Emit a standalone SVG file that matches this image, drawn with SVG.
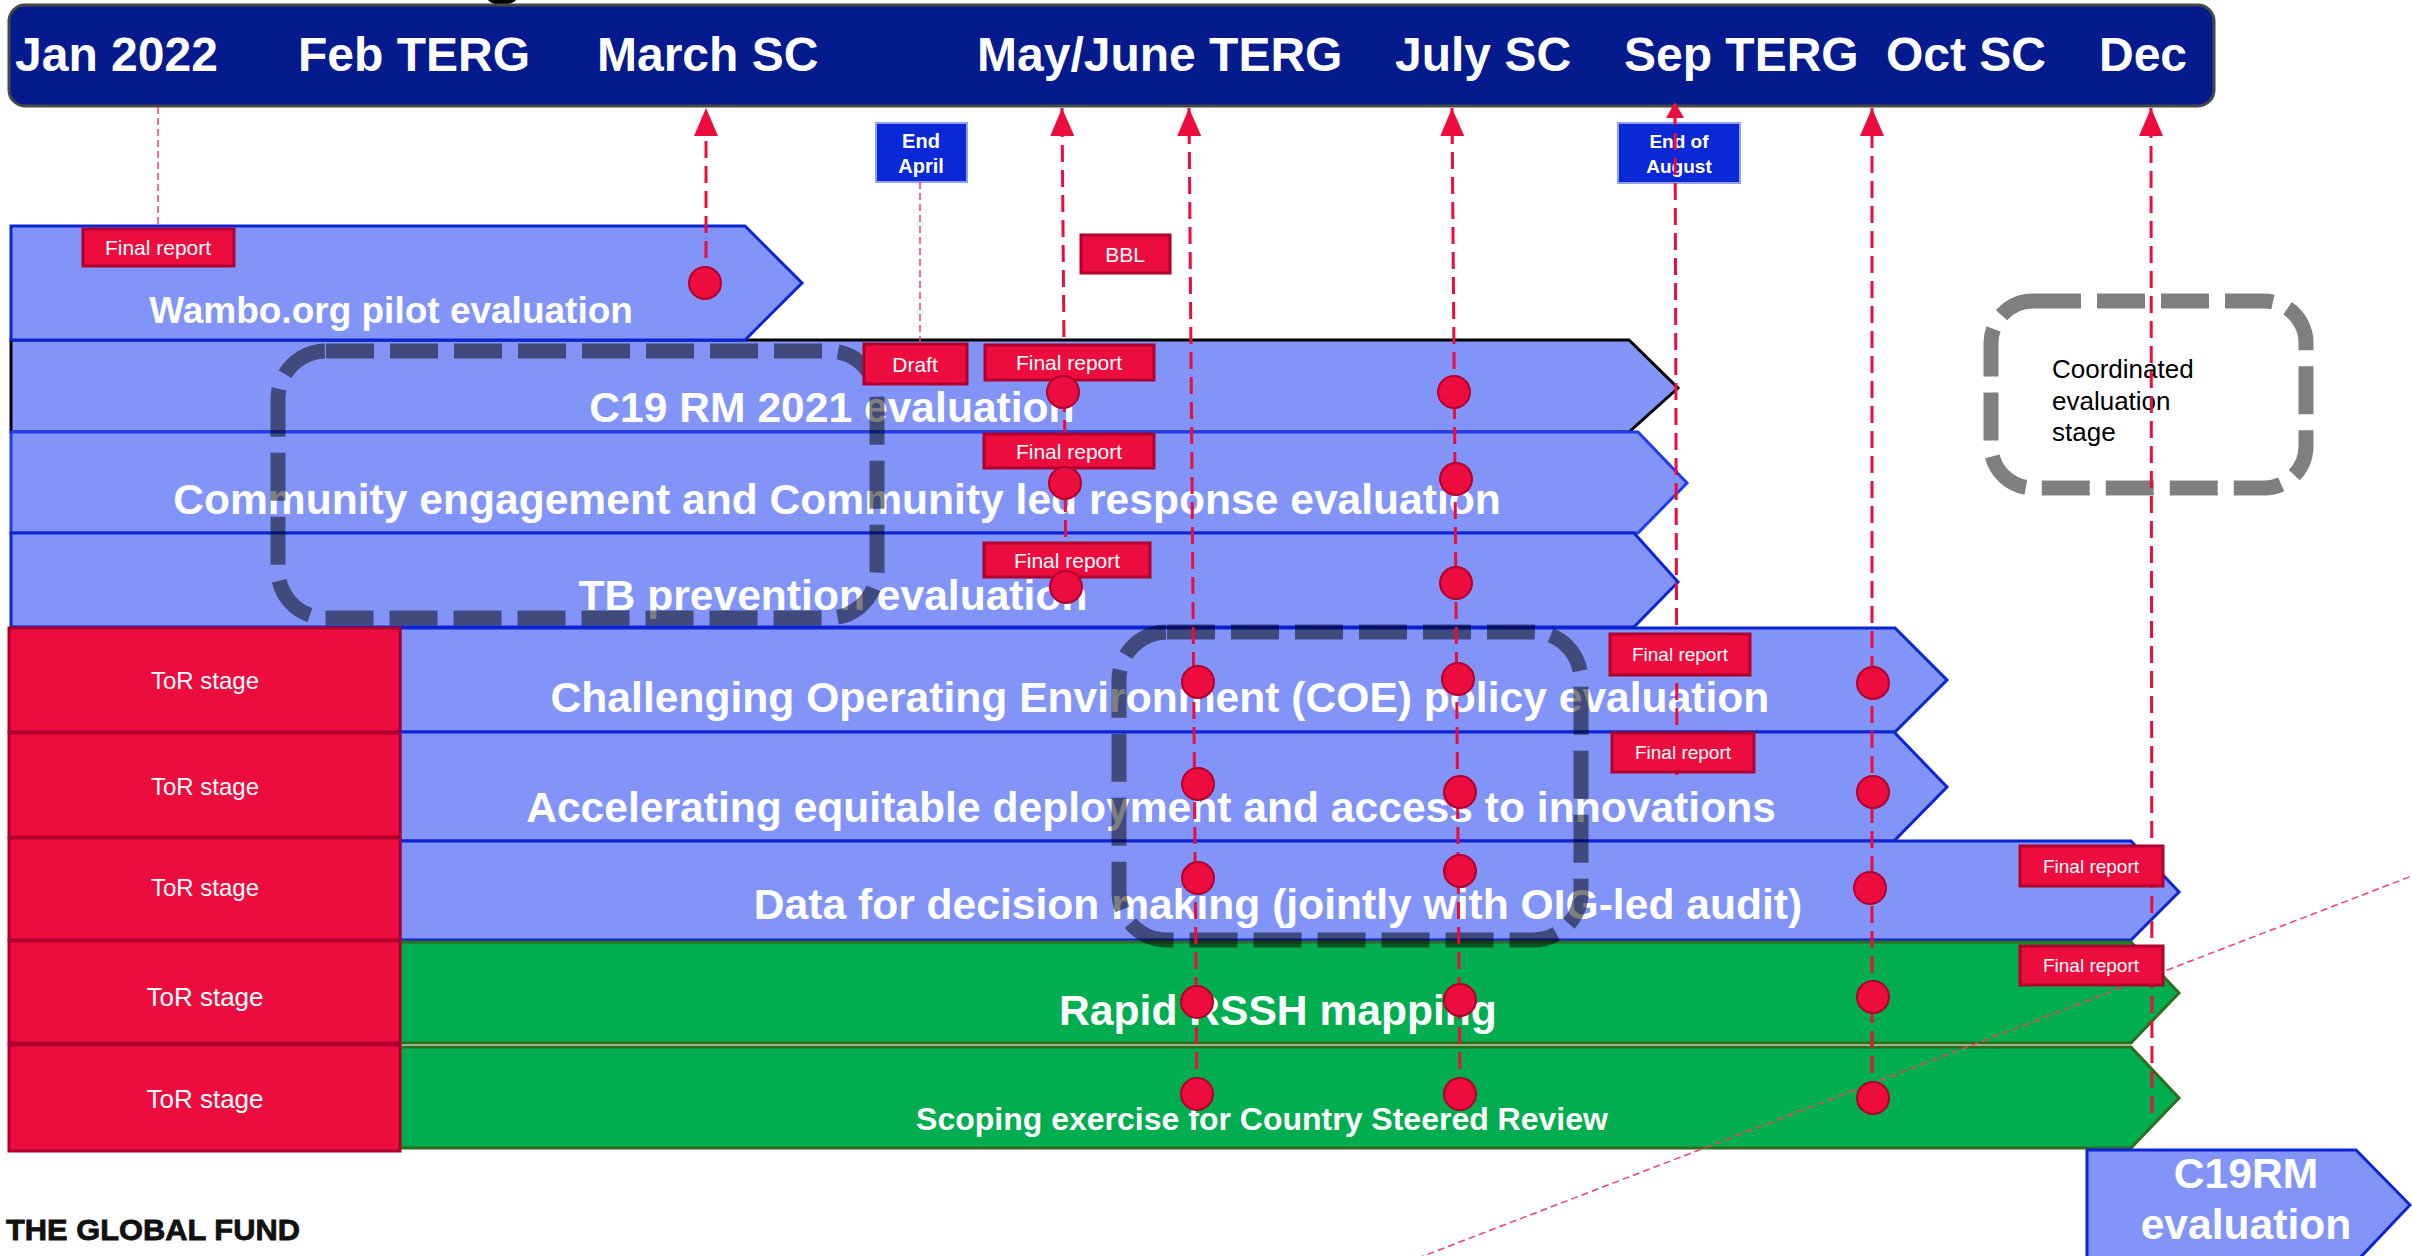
<svg xmlns="http://www.w3.org/2000/svg" width="2412" height="1256" viewBox="0 0 2412 1256">
<style>
.hdr{font-family:"Liberation Sans",Arial,sans-serif;font-weight:bold;font-size:48px;fill:#fff}
.row{stroke:#0B25D6;stroke-width:3;fill:#8294F8;stroke-linejoin:miter}
.grn{stroke:#2E6E1E;stroke-width:3;fill:#00AE4F}
.big{font-family:"Liberation Sans",Arial,sans-serif;font-weight:bold;font-size:42.6px;fill:#fff;text-anchor:middle}
.tor{fill:#EC0C3E;stroke:#B0002E;stroke-width:3}
.tort{font-family:"Liberation Sans",Arial,sans-serif;font-size:24px;fill:#fff;text-anchor:middle}
.lbl{fill:#EC0C3E;stroke:#B0002E;stroke-width:3}
.lblt{font-family:"Liberation Sans",Arial,sans-serif;font-size:21px;fill:#fff;text-anchor:middle}
.blu{fill:#0A28D6;stroke:#8FA0F0;stroke-width:2}
.blut{font-family:"Liberation Sans",Arial,sans-serif;font-weight:bold;font-size:20px;fill:#fff;text-anchor:middle}
.dash{fill:none;stroke:#000;stroke-opacity:0.5;stroke-width:15;stroke-dasharray:48 16}
.rl{stroke:#EC0C3E;stroke-width:3;stroke-dasharray:17 8;fill:none}
.tl{stroke:#F0406A;stroke-width:1.5;stroke-dasharray:7 4;fill:none}
.dot{fill:#EC0C3E;stroke:#B0002E;stroke-width:2}
</style>
<defs>
<marker id="ah" viewBox="0 0 28 24" refX="28" refY="12" markerWidth="28" markerHeight="24" markerUnits="userSpaceOnUse" orient="auto">
<path d="M0,0 L28,12 L0,24 z" fill="#EC0C3E"/>
</marker>
<marker id="ahs" viewBox="0 0 16 18" refX="16" refY="9" markerWidth="16" markerHeight="18" markerUnits="userSpaceOnUse" orient="auto">
<path d="M0,0 L16,9 L0,18 z" fill="#EC0C3E"/>
</marker>
</defs>
<rect width="2412" height="1256" fill="#fff"/>
<ellipse cx="502" cy="-8" rx="18" ry="13" fill="#000"/>

<g id="header">
<rect x="9" y="5" width="2205" height="101" rx="16" fill="#041A8D" stroke="#474747" stroke-width="3"/>
<text class="hdr" x="15" y="71">Jan 2022</text>
<text class="hdr" x="298" y="71">Feb TERG</text>
<text class="hdr" x="597" y="71">March SC</text>
<text class="hdr" x="977" y="71">May/June TERG</text>
<text class="hdr" x="1395" y="71">July SC</text>
<text class="hdr" x="1624" y="71">Sep TERG</text>
<text class="hdr" x="1886" y="71">Oct SC</text>
<text class="hdr" x="2099" y="71">Dec</text>
</g>

<g id="row-c19">
<polygon points="11,340 1629,340 1678,388 1629,432 11,432" fill="#8294F8" stroke="#000" stroke-width="3"/>
<text class="big" x="832" y="422">C19 RM 2021 evaluation</text>
</g>
<g id="row-wambo">
<polygon class="row" points="11,226 745,226 802,283 745,340 11,340"/>
<text class="big" x="391" y="323" style="font-size:37px">Wambo.org pilot evaluation</text>
</g>
<g id="row-community">
<polygon class="row" points="11,432 1638,432 1687,483 1638,533 11,533" style="stroke:#1F3DEB"/>
<text class="big" x="837" y="514">Community engagement and Community led response evaluation</text>
</g>
<g id="row-tb">
<polygon class="row" points="11,533 1634,533 1678,582 1634,627 11,627"/>
<text class="big" x="833" y="610">TB prevention evaluation</text>
</g>
<g id="row-coe">
<polygon class="row" points="400,628 1895,628 1947,680 1895,732 400,732"/>
<rect class="tor" x="9" y="628" width="391" height="104"/>
<text class="tort" x="205" y="689">ToR stage</text>
<text class="big" x="1160" y="712">Challenging Operating Environment (COE) policy evaluation</text>
</g>
<g id="row-access">
<polygon class="row" points="400,732 1894,732 1947,787 1894,841 400,841"/>
<rect class="tor" x="9" y="733" width="391" height="104"/>
<text class="tort" x="205" y="795">ToR stage</text>
<text class="big" x="1151" y="822">Accelerating equitable deployment and access to innovations</text>
</g>
<g id="row-data">
<polygon class="row" points="400,841 2131,841 2179,892 2131,940 400,940"/>
<rect class="tor" x="9" y="838" width="391" height="102"/>
<text class="tort" x="205" y="896">ToR stage</text>
<text class="big" x="1278" y="919">Data for decision making (jointly with OIG-led audit)</text>
</g>
<g id="row-rssh">
<polygon class="grn" points="400,942 2131,942 2179,993 2131,1043 400,1043"/>
<rect class="tor" x="9" y="941" width="391" height="102"/>
<text class="tort" x="205" y="1006" style="font-size:26px">ToR stage</text>
<text class="big" x="1278" y="1025">Rapid RSSH mapping</text>
</g>
<g id="row-scoping">
<polygon class="grn" points="400,1047 2131,1047 2179,1098 2131,1148 400,1148"/>
<rect class="tor" x="9" y="1045" width="391" height="106"/>
<text class="tort" x="205" y="1108" style="font-size:26px">ToR stage</text>
<text class="big" x="1262" y="1130" style="font-size:32px">Scoping exercise for Country Steered Review</text>
</g>
<g id="c19rm-next">
<polygon class="row" points="2087,1150 2356,1150 2410,1205 2356,1262 2087,1262"/>
<text class="big" x="2246" y="1188">C19RM</text>
<text class="big" x="2246" y="1239">evaluation</text>
</g>

<g id="stage-box-1"><rect class="dash" x="278" y="351" width="599" height="267" rx="48"/></g>
<g id="stage-box-2"><rect class="dash" x="1119" y="632" width="462" height="308" rx="48"/></g>
<g id="legend">
<rect class="dash" x="1991" y="301" width="315" height="187" rx="42"/>
<text x="2052" y="378" font-family="Liberation Sans, Arial, sans-serif" font-size="26" fill="#000">Coordinated</text>
<text x="2052" y="410" font-family="Liberation Sans, Arial, sans-serif" font-size="26" fill="#000">evaluation</text>
<text x="2052" y="441" font-family="Liberation Sans, Arial, sans-serif" font-size="26" fill="#000">stage</text>
</g>

<g id="end-april">
<rect class="blu" x="876" y="123" width="91" height="59"/>
<text class="blut" x="921" y="148">End</text>
<text class="blut" x="921" y="173">April</text>
</g>
<g id="end-august">
<rect class="blu" x="1618" y="123" width="122" height="60"/>
<text class="blut" x="1679" y="148" style="font-size:19px">End of</text>
<text class="blut" x="1679" y="173" style="font-size:19px">August</text>
</g>

<g id="connectors">
<line class="tl" x1="158" y1="107" x2="158" y2="229"/>
<line class="tl" x1="920" y1="182" x2="920" y2="344"/>
<line class="tl" x1="2430" y1="869" x2="1400" y2="1265"/>
<line class="rl" x1="706" y1="283" x2="706" y2="108" marker-end="url(#ah)"/>
<line class="rl" x1="1066" y1="587" x2="1062" y2="108" marker-end="url(#ah)"/>
<line class="rl" x1="1197" y1="1094" x2="1189" y2="108" marker-end="url(#ah)"/>
<line class="rl" x1="1460" y1="1094" x2="1452" y2="108" marker-end="url(#ah)"/>
<line class="rl" x1="1677" y1="775" x2="1675" y2="102" marker-end="url(#ahs)"/>
<line class="rl" x1="1872" y1="1098" x2="1872" y2="108" marker-end="url(#ah)"/>
<line class="rl" x1="2152" y1="1113" x2="2151" y2="108" marker-end="url(#ah)"/>
</g>

<g id="label-final-wambo"><rect class="lbl" x="83" y="229" width="151" height="37"/><text class="lblt" x="158" y="255">Final report</text></g>
<g id="label-bbl"><rect class="lbl" x="1081" y="235" width="89" height="38"/><text class="lblt" x="1125" y="262">BBL</text></g>
<g id="label-draft"><rect class="lbl" x="864" y="344" width="103" height="40"/><text class="lblt" x="915" y="372">Draft</text></g>
<g id="label-final-c19"><rect class="lbl" x="985" y="345" width="169" height="35"/><text class="lblt" x="1069" y="370">Final report</text></g>
<g id="label-final-community"><rect class="lbl" x="984" y="434" width="170" height="34"/><text class="lblt" x="1069" y="459">Final report</text></g>
<g id="label-final-tb"><rect class="lbl" x="984" y="543" width="166" height="34"/><text class="lblt" x="1067" y="568">Final report</text></g>
<g id="label-final-coe"><rect class="lbl" x="1610" y="634" width="140" height="41"/><text class="lblt" x="1680" y="661" style="font-size:19px">Final report</text></g>
<g id="label-final-access"><rect class="lbl" x="1612" y="733" width="142" height="39"/><text class="lblt" x="1683" y="759" style="font-size:19px">Final report</text></g>
<g id="label-final-data"><rect class="lbl" x="2020" y="846" width="143" height="40"/><text class="lblt" x="2091" y="873" style="font-size:19px">Final report</text></g>
<g id="label-final-rssh"><rect class="lbl" x="2020" y="946" width="143" height="39"/><text class="lblt" x="2091" y="972" style="font-size:19px">Final report</text></g>

<g id="milestones">
<circle class="dot" cx="705" cy="283" r="16"/>
<circle class="dot" cx="1063" cy="392" r="16"/>
<circle class="dot" cx="1454" cy="392" r="16"/>
<circle class="dot" cx="1065" cy="483" r="16"/>
<circle class="dot" cx="1456" cy="479" r="16"/>
<circle class="dot" cx="1066" cy="587" r="16"/>
<circle class="dot" cx="1456" cy="583" r="16"/>
<circle class="dot" cx="1198" cy="682" r="16"/>
<circle class="dot" cx="1458" cy="679" r="16"/>
<circle class="dot" cx="1873" cy="683" r="16"/>
<circle class="dot" cx="1198" cy="784" r="16"/>
<circle class="dot" cx="1460" cy="792" r="16"/>
<circle class="dot" cx="1873" cy="792" r="16"/>
<circle class="dot" cx="1198" cy="878" r="16"/>
<circle class="dot" cx="1460" cy="871" r="16"/>
<circle class="dot" cx="1870" cy="888" r="16"/>
<circle class="dot" cx="1197" cy="1002" r="16"/>
<circle class="dot" cx="1460" cy="1000" r="16"/>
<circle class="dot" cx="1873" cy="997" r="16"/>
<circle class="dot" cx="1197" cy="1094" r="16"/>
<circle class="dot" cx="1460" cy="1094" r="16"/>
<circle class="dot" cx="1873" cy="1098" r="16"/>
</g>

<g id="logo"><text x="6" y="1240" font-family="Liberation Sans, Arial, sans-serif" font-weight="bold" font-size="30" fill="#111" textLength="294" lengthAdjust="spacingAndGlyphs" stroke="#111" stroke-width="0.8">THE GLOBAL FUND</text></g>
</svg>
